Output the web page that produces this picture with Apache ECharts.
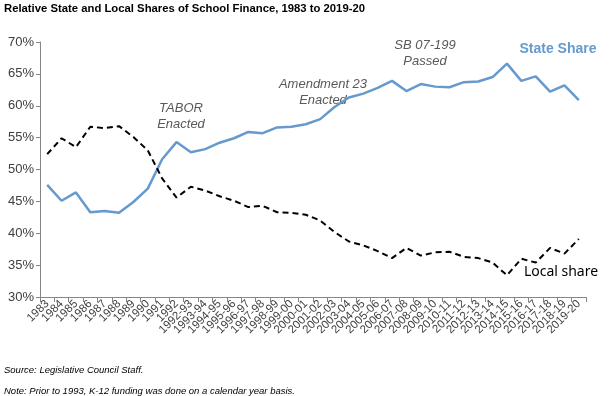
<!DOCTYPE html>
<html>
<head>
<meta charset="utf-8">
<script src="https://cdn.jsdelivr.net/npm/echarts@6/dist/echarts.min.js"></script>
<style>
html,body{margin:0;padding:0;background:#fff;}
#chart{width:613px;height:396px;}
</style>
</head>
<body>
<div id="chart"></div>
<script>
var categories = ['1983','1984','1985','1986','1987','1988','1989','1990','1991','1992',
  '1992-93','1993-94','1994-95','1995-96','1996-97','1997-98','1998-99','1999-00','2000-01','2001-02',
  '2002-03','2003-04','2004-05','2005-06','2006-07','2007-08','2008-09','2009-10','2010-11','2011-12',
  '2012-13','2013-14','2014-15','2015-16','2016-17','2017-18','2018-19','2019-20'];
var stateShare = [47.6,45.1,46.4,43.3,43.5,43.2,44.9,47.0,51.6,54.3,
  52.7,53.2,54.2,54.9,55.9,55.7,56.6,56.7,57.1,57.9,
  59.8,61.3,61.9,62.8,63.9,62.3,63.4,63.0,62.9,63.7,
  63.8,64.5,66.6,63.9,64.6,62.2,63.2,60.9];
var localShare = [52.4,54.9,53.5,56.7,56.5,56.8,55.1,53.0,48.6,45.6,
  47.3,46.7,45.8,45.1,44.1,44.3,43.3,43.2,42.9,42.0,
  40.2,38.7,38.1,37.2,36.1,37.7,36.5,37.0,37.1,36.3,
  36.1,35.4,33.4,36.0,35.4,37.7,36.8,39.1];
var yTicks = {min:30, max:70, interval:5};

var chart = echarts.init(document.getElementById('chart'), null, {renderer:'canvas'});
var gray = '#595959';
var annFont = 'italic 13px "Liberation Sans", Arial, sans-serif';
chart.setOption({
  animation:false,
  backgroundColor:'#fff',
  grid:{left:40, right:27, top:42, bottom:99, containLabel:false},
  xAxis:{
    type:'category', data:categories, boundaryGap:true,
    axisLine:{lineStyle:{color:'#868686', width:1}},
    axisTick:{show:true, alignWithLabel:false, length:5, lineStyle:{color:'#868686'}},
    axisLabel:{rotate:45, interval:0, fontSize:11.5, color:'#404040', fontFamily:'"Liberation Sans", Arial, sans-serif', margin:5}
  },
  yAxis:{
    type:'value', min:yTicks.min, max:yTicks.max, interval:yTicks.interval,
    splitLine:{show:false},
    axisLine:{show:true, lineStyle:{color:'#868686', width:1}},
    axisTick:{show:true, length:4, lineStyle:{color:'#868686'}},
    axisLabel:{formatter:'{value}%', fontSize:13, color:'#404040', fontFamily:'"Liberation Sans", Arial, sans-serif', margin:6}
  },
  series:[
    {name:'State Share', type:'line', data:stateShare, symbol:'none',
      lineStyle:{color:'#6699CC', width:2.5}},
    {name:'Local share', type:'line', data:localShare, symbol:'none',
      lineStyle:{color:'#000', width:2, type:[6,4]}}
  ],
  graphic:[
    {type:'text', left:4, top:3, style:{text:'Relative State and Local Shares of School Finance, 1983 to 2019-20', font:'bold 11.3px "Liberation Sans", Arial, sans-serif', fill:'#000'}},
    {type:'text', x:181, y:100, style:{text:'TABOR\nEnacted', font:annFont, fill:gray, textAlign:'center', lineHeight:16}},
    {type:'text', x:323, y:76, style:{text:'Amendment 23\nEnacted', font:annFont, fill:gray, textAlign:'center', lineHeight:16}},
    {type:'text', x:425, y:37, style:{text:'SB 07-199\nPassed', font:annFont, fill:gray, textAlign:'center', lineHeight:16}},
    {type:'text', x:558, y:42, style:{text:'State Share', font:'bold 14px "Liberation Sans", Arial, sans-serif', fill:'#6699CC', textAlign:'center'}},
    {type:'text', x:561, y:265, style:{text:'Local share', font:'14px "Noto Sans", sans-serif', fill:'#000', textAlign:'center'}},
    {type:'text', left:4, top:365, style:{text:'Source: Legislative Council Staff.', font:'italic 9.5px "Liberation Sans", Arial, sans-serif', fill:'#000'}},
    {type:'text', left:4, top:386, style:{text:'Note: Prior to 1993, K-12 funding was done on a calendar year basis.', font:'italic 9.5px "Liberation Sans", Arial, sans-serif', fill:'#000'}}
  ]
});
</script>
</body>
</html>
